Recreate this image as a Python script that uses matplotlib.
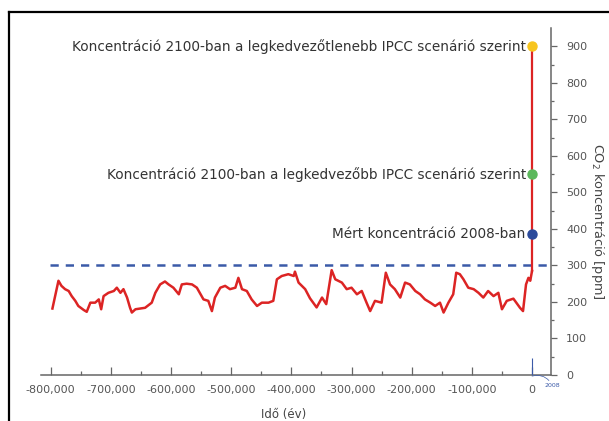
import numpy as np
import matplotlib.pyplot as plt
from matplotlib.lines import Line2D

# jegmag adatok (ev, ppm) - leolvasva a kepről
years = [-797000, -787000, -782000, -776000, -770000, -765000, -759000, -754000, -745000, -740000,
         -734000, -726000, -720000, -716000, -712000, -704000, -695000, -690000, -684000, -679000,
         -673000, -668000, -665000, -659000, -651000, -643000, -632000, -626000, -618000, -610000,
         -604000, -596000, -587000, -582000, -574000, -565000, -557000, -546000, -538000, -532000,
         -527000, -518000, -510000, -502000, -493000, -488000, -482000, -474000, -466000, -457000,
         -449000, -438000, -430000, -424000, -416000, -405000, -396000, -394000, -388000, -377000,
         -369000, -358000, -349000, -342000, -333000, -327000, -316000, -308000, -300000, -291000,
         -283000, -275000, -269000, -261000, -250000, -243000, -236000, -228000, -219000, -211000,
         -203000, -194000, -186000, -178000, -169000, -161000, -153000, -147000, -139000, -131000,
         -126000, -120000, -114000, -106000, -97000, -89000, -81000, -73000, -64000, -56000,
         -50000, -42000, -31000, -20000, -15000, -10000, -6000, -3000, 0]
co2 = [182, 258, 244, 235, 230, 216, 203, 189, 178, 173,
       198, 198, 207, 180, 216, 225, 230, 239, 225, 235,
       212, 184, 171, 180, 182, 184, 198, 225, 248, 256,
       248, 239, 221, 248, 250, 248, 239, 207, 203, 175,
       212, 239, 244, 235, 239, 266, 235, 230, 207, 189,
       198, 198, 203, 262, 271, 276, 271, 283, 253, 235,
       210, 185, 212, 194, 287, 262, 253, 235, 239, 221,
       230, 198, 175, 203, 198, 280, 248, 235, 212, 253,
       248, 230, 221, 207, 198, 189, 198, 171, 198, 221,
       280, 276, 262, 239, 235, 225, 212, 230, 216, 225,
       180, 203, 209, 184, 175, 248, 266, 258, 285]

# 2100-as elorejelzes
proj_years = [0, 0]
proj_co2 = [285, 900]

# pontok
pt_labels = ['Koncentráció 2100-ban a legkedvezőtlenebb IPCC scenárió szerint',
             'Koncentráció 2100-ban a legkedvezőbb IPCC scenárió szerint',
             'Mért koncentráció 2008-ban']
pt_values = [900, 550, 385]
pt_colors = ['#f7c51e', '#5cb85c', '#2b4a9b']

threshold = 300

x_ticks = list(range(-800000, 1, 100000))
y_ticks = list(range(0, 901, 100))

plt.rcParams['font.family'] = ['DejaVu Sans']
gray = '#555555'
red = '#dc2424'
blue = '#3b5aa8'

fig = plt.figure(figsize=(6.09, 4.21), dpi=100)
ax = fig.add_axes([41/609, 1-375/421, 510/609, 347/421])

ax.plot(years, co2, color=red, lw=1.8, solid_joinstyle='round')
ax.plot(proj_years, proj_co2, color=red, lw=1.6)
ax.axhline(threshold, xmin=0.0186, xmax=1, color=blue, lw=1.8, dashes=(3.3, 2.8), zorder=1)

for lab, v, c in zip(pt_labels, pt_values, pt_colors):
    ax.plot([0], [v], 'o', color=c, ms=6.5, zorder=5)
    ax.annotate(lab, xy=(0, v), xytext=(-4.5, 0), textcoords='offset points',
                ha='right', va='center', fontsize=9.8, color='#333333')

# 2008 jeloles
ax.vlines(0, 0, 47, color=blue, lw=0.8, zorder=4)
ax.annotate('2008', xy=(0, -3), xytext=(9, -7), textcoords='offset points',
            fontsize=4.5, color=blue, va='center', ha='left', annotation_clip=False,
            arrowprops=dict(arrowstyle='-', color=blue, lw=0.5,
                            connectionstyle='arc3,rad=0.4', shrinkA=0, shrinkB=0))

ax.set_xlim(-816000, 31500)
ax.set_ylim(0, 950)

for s in ['left', 'top']:
    ax.spines[s].set_visible(False)
for s in ['bottom', 'right']:
    ax.spines[s].set_color('#666666')
    ax.spines[s].set_linewidth(1.1)

ax.set_xticks(x_ticks)
ax.set_xticklabels([f'{v:,}' for v in x_ticks])
ax.set_xticks(list(range(-750000, 0, 100000)), minor=True)
ax.tick_params(axis='x', which='major', direction='in', length=6, width=0.9,
               color='#666666', labelsize=8, labelcolor=gray, pad=7)
ax.tick_params(axis='x', which='minor', direction='in', length=3, width=0.9, color='#666666')

ax.yaxis.tick_right()
ax.set_yticks(y_ticks)
ax.set_yticks(list(range(50, 901, 100)), minor=True)
ax.tick_params(axis='y', which='major', direction='out', length=4, width=0.9,
               color='#666666', labelsize=8, labelcolor=gray, pad=7)
ax.tick_params(axis='y', which='minor', direction='out', length=2, width=0.9, color='#666666')

ax.text(0.4755, -0.1124, 'Idő (év)', transform=ax.transAxes, ha='center', va='center',
        fontsize=8.5, color='#444444')
ax.text(1.092, 0.444, 'CO$_2$ koncentráció [ppm]', transform=ax.transAxes, rotation=270,
        ha='center', va='center', fontsize=9.3, color='#444444')

# keret
top = 1 - 12/421
left = 9/609
fig.add_artist(Line2D([left, left], [-0.1, top], color='black', lw=1.6, transform=fig.transFigure))
fig.add_artist(Line2D([left, 1.1], [top, top], color='black', lw=1.6, transform=fig.transFigure))

plt.savefig('out.png', dpi=100)
